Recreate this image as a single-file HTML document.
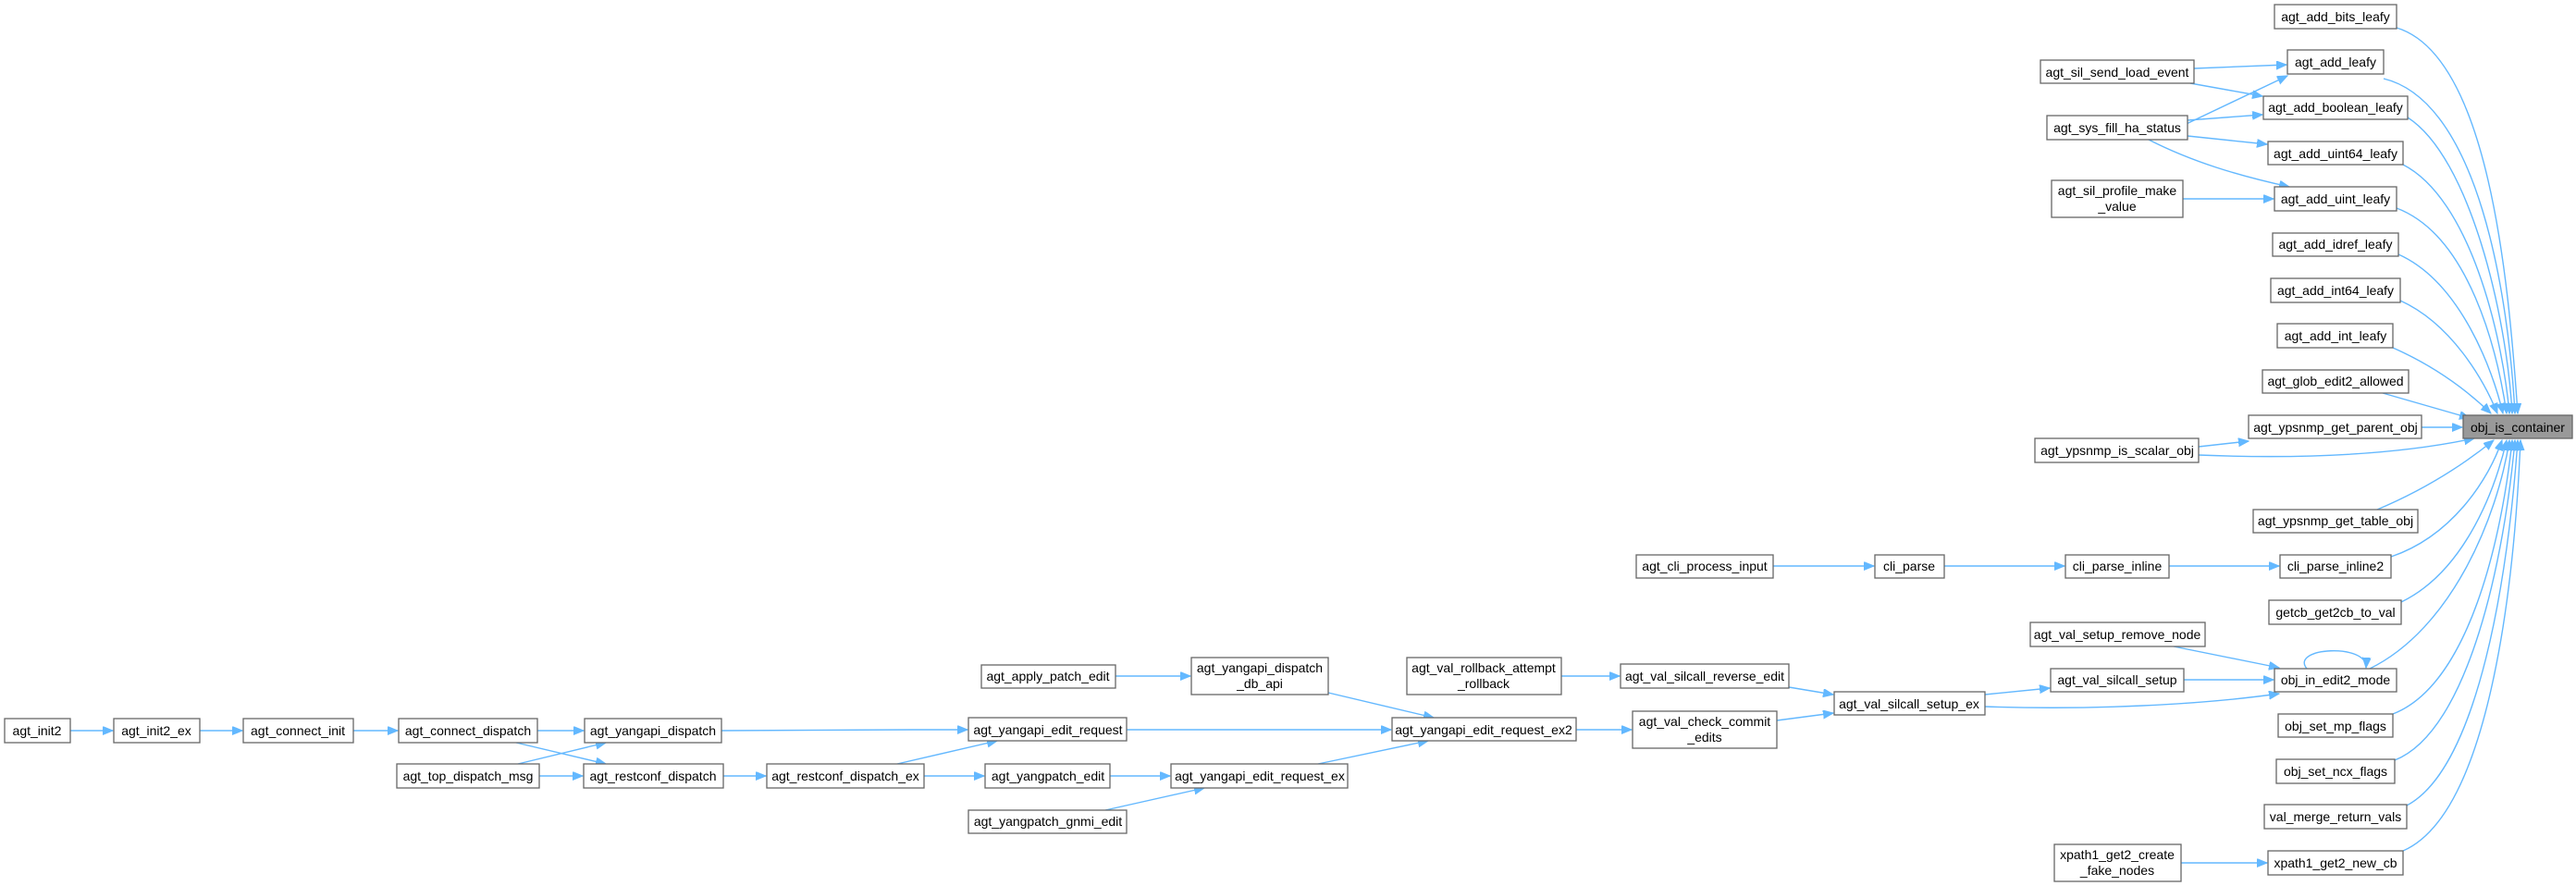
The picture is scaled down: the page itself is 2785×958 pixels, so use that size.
<!DOCTYPE html>
<html><head><meta charset="utf-8"><style>
html,body{margin:0;padding:0;background:#fff;}
svg{display:block;}
text{font-family:"Liberation Sans",Arial,sans-serif;font-size:14px;fill:#000;}
.n{fill:#fff;stroke:#666;stroke-width:1.3;}
.e{fill:none;stroke:#63b8ff;stroke-width:1.4;}
</style></head><body>
<svg width="2785" height="958" viewBox="0 0 2785 958" xmlns="http://www.w3.org/2000/svg">
<defs><marker id="a" markerUnits="userSpaceOnUse" markerWidth="12" markerHeight="10" refX="11" refY="4.5" orient="auto"><path d="M0,0 L11,4.5 L0,9 z" fill="#63b8ff" stroke="#63b8ff"/></marker></defs>

<g class="edges">
<path class="e" marker-end="url(#a)" d="M2591,30 C2690,60 2712,300 2722,447"/>
<path class="e" marker-end="url(#a)" d="M2577,85 C2680,110 2712,320 2719,447"/>
<path class="e" marker-end="url(#a)" d="M2603,127 C2670,170 2710,340 2716,447"/>
<path class="e" marker-end="url(#a)" d="M2598,178 C2670,215 2705,360 2713,447"/>
<path class="e" marker-end="url(#a)" d="M2591,225 C2670,255 2700,380 2710,447"/>
<path class="e" marker-end="url(#a)" d="M2593,275 C2660,305 2695,400 2706,447"/>
<path class="e" marker-end="url(#a)" d="M2595,325 C2650,350 2685,410 2700,447"/>
<path class="e" marker-end="url(#a)" d="M2587,376 C2630,395 2665,420 2693,447"/>
<path class="e" marker-end="url(#a)" d="M2576,425 L2670,452"/>
<path class="e" marker-end="url(#a)" d="M2618,462 L2662,462"/>
<path class="e" marker-end="url(#a)" d="M2377,492 C2500,497 2600,490 2675,474"/>
<path class="e" marker-end="url(#a)" d="M2570,551 C2620,530 2660,505 2696,476"/>
<path class="e" marker-end="url(#a)" d="M2585,602 C2650,580 2690,520 2705,476"/>
<path class="e" marker-end="url(#a)" d="M2596,651 C2660,620 2695,540 2710,476"/>
<path class="e" marker-end="url(#a)" d="M2562,723 C2650,680 2700,560 2713,476"/>
<path class="e" marker-end="url(#a)" d="M2587,772 C2670,740 2705,580 2716,476"/>
<path class="e" marker-end="url(#a)" d="M2589,822 C2670,790 2708,600 2719,476"/>
<path class="e" marker-end="url(#a)" d="M2602,871 C2680,830 2712,620 2722,476"/>
<path class="e" marker-end="url(#a)" d="M2598,920 C2690,880 2718,640 2725,476"/>
<path class="e" marker-end="url(#a)" d="M2372,74 L2472,70"/>
<path class="e" marker-end="url(#a)" d="M2368,90 L2446,104"/>
<path class="e" marker-end="url(#a)" d="M2328,151 L2473,82"/>
<path class="e" marker-end="url(#a)" d="M2365,130 L2446,124"/>
<path class="e" marker-end="url(#a)" d="M2365,147 L2451,156"/>
<path class="e" marker-end="url(#a)" d="M2323,151 C2370,175 2420,190 2475,202"/>
<path class="e" marker-end="url(#a)" d="M2360,215 L2458,215"/>
<path class="e" marker-end="url(#a)" d="M2377,483 L2431,477"/>
<path class="e" marker-end="url(#a)" d="M1917,612 L2026,612"/>
<path class="e" marker-end="url(#a)" d="M2102,612 L2232,612"/>
<path class="e" marker-end="url(#a)" d="M2345,612 L2464,612"/>
<path class="e" marker-end="url(#a)" d="M2350,699 L2464,722"/>
<path class="e" marker-end="url(#a)" d="M2361,735 L2458,735"/>
<path class="e" marker-end="url(#a)" d="M2146,751 L2216,744"/>
<path class="e" marker-end="url(#a)" d="M2146,764 C2260,768 2380,762 2464,750"/>
<path class="e" marker-end="url(#a)" d="M2494,723 C2475,700 2560,695 2558,722"/>
<path class="e" marker-end="url(#a)" d="M2358,933 L2451,933"/>
<path class="e" marker-end="url(#a)" d="M1688,731 L1751,731"/>
<path class="e" marker-end="url(#a)" d="M1934,743 L1982,751"/>
<path class="e" marker-end="url(#a)" d="M1921,779 L1982,771"/>
<path class="e" marker-end="url(#a)" d="M1704,789 L1764,789"/>
<path class="e" marker-end="url(#a)" d="M1206,731 L1287,731"/>
<path class="e" marker-end="url(#a)" d="M1436,749 L1550,776"/>
<path class="e" marker-end="url(#a)" d="M1218,789 L1504,789"/>
<path class="e" marker-end="url(#a)" d="M1425,826 L1544,801"/>
<path class="e" marker-end="url(#a)" d="M999,839 L1064,839"/>
<path class="e" marker-end="url(#a)" d="M1200,839 L1265,839"/>
<path class="e" marker-end="url(#a)" d="M970,826 L1078,801"/>
<path class="e" marker-end="url(#a)" d="M1195,876 L1302,852"/>
<path class="e" marker-end="url(#a)" d="M780,790 C880,789 960,789 1046,789"/>
<path class="e" marker-end="url(#a)" d="M782,839 L828,839"/>
<path class="e" marker-end="url(#a)" d="M76,790 L122,790"/>
<path class="e" marker-end="url(#a)" d="M216,790 L262,790"/>
<path class="e" marker-end="url(#a)" d="M382,790 L430,790"/>
<path class="e" marker-end="url(#a)" d="M581,790 L631,790"/>
<path class="e" marker-end="url(#a)" d="M558,803 L655,826"/>
<path class="e" marker-end="url(#a)" d="M560,826 L655,803"/>
<path class="e" marker-end="url(#a)" d="M583,839 L630,839"/>
</g>

<g class="nodes">
<rect class="n" x="2459" y="5" width="132" height="26"/><text x="2525" y="23" text-anchor="middle">agt_add_bits_leafy</text>
<rect class="n" x="2473" y="54" width="104" height="26"/><text x="2525" y="72" text-anchor="middle">agt_add_leafy</text>
<rect class="n" x="2447" y="104" width="156" height="25"/><text x="2525" y="121" text-anchor="middle">agt_add_boolean_leafy</text>
<rect class="n" x="2452" y="153" width="146" height="25"/><text x="2525" y="171" text-anchor="middle">agt_add_uint64_leafy</text>
<rect class="n" x="2459" y="202" width="132" height="26"/><text x="2525" y="220" text-anchor="middle">agt_add_uint_leafy</text>
<rect class="n" x="2457" y="252" width="136" height="25"/><text x="2525" y="269" text-anchor="middle">agt_add_idref_leafy</text>
<rect class="n" x="2455" y="301" width="140" height="26"/><text x="2525" y="319" text-anchor="middle">agt_add_int64_leafy</text>
<rect class="n" x="2462" y="350" width="125" height="26"/><text x="2525" y="368" text-anchor="middle">agt_add_int_leafy</text>
<rect class="n" x="2446" y="400" width="158" height="25"/><text x="2525" y="417" text-anchor="middle">agt_glob_edit2_allowed</text>
<rect class="n" x="2431" y="449" width="187" height="25"/><text x="2525" y="467" text-anchor="middle">agt_ypsnmp_get_parent_obj</text>
<rect x="2663" y="449" width="118" height="25" fill="#999" stroke="#666" stroke-width="1.3"/><text x="2722" y="467" text-anchor="middle">obj_is_container</text>
<rect class="n" x="2206" y="65" width="166" height="25"/><text x="2289" y="83" text-anchor="middle">agt_sil_send_load_event</text>
<rect class="n" x="2213" y="125" width="152" height="26"/><text x="2289" y="143" text-anchor="middle">agt_sys_fill_ha_status</text>
<rect class="n" x="2218" y="195" width="142" height="40"/><text x="2289" y="211" text-anchor="middle">agt_sil_profile_make</text><text x="2289" y="228" text-anchor="middle">_value</text>
<rect class="n" x="2200" y="474" width="177" height="26"/><text x="2289" y="492" text-anchor="middle">agt_ypsnmp_is_scalar_obj</text>
<rect class="n" x="2436" y="551" width="178" height="25"/><text x="2525" y="568" text-anchor="middle">agt_ypsnmp_get_table_obj</text>
<rect class="n" x="1769" y="600" width="148" height="25"/><text x="1843" y="617" text-anchor="middle">agt_cli_process_input</text>
<rect class="n" x="2027" y="600" width="75" height="25"/><text x="2064" y="617" text-anchor="middle">cli_parse</text>
<rect class="n" x="2233" y="600" width="112" height="25"/><text x="2289" y="617" text-anchor="middle">cli_parse_inline</text>
<rect class="n" x="2465" y="600" width="120" height="25"/><text x="2525" y="617" text-anchor="middle">cli_parse_inline2</text>
<rect class="n" x="2453" y="649" width="143" height="26"/><text x="2525" y="667" text-anchor="middle">getcb_get2cb_to_val</text>
<rect class="n" x="2195" y="673" width="189" height="26"/><text x="2289" y="691" text-anchor="middle">agt_val_setup_remove_node</text>
<rect class="n" x="2217" y="723" width="144" height="25"/><text x="2289" y="740" text-anchor="middle">agt_val_silcall_setup</text>
<rect class="n" x="2459" y="723" width="132" height="25"/><text x="2525" y="740" text-anchor="middle">obj_in_edit2_mode</text>
<rect class="n" x="2463" y="772" width="124" height="25"/><text x="2525" y="790" text-anchor="middle">obj_set_mp_flags</text>
<rect class="n" x="2461" y="821" width="128" height="26"/><text x="2525" y="839" text-anchor="middle">obj_set_ncx_flags</text>
<rect class="n" x="2448" y="870" width="154" height="26"/><text x="2525" y="888" text-anchor="middle">val_merge_return_vals</text>
<rect class="n" x="2452" y="920" width="146" height="26"/><text x="2525" y="938" text-anchor="middle">xpath1_get2_new_cb</text>
<rect class="n" x="2221" y="913" width="137" height="40"/><text x="2289" y="929" text-anchor="middle">xpath1_get2_create</text><text x="2289" y="946" text-anchor="middle">_fake_nodes</text>
<rect class="n" x="1521" y="711" width="167" height="40"/><text x="1604" y="727" text-anchor="middle">agt_val_rollback_attempt</text><text x="1604" y="744" text-anchor="middle">_rollback</text>
<rect class="n" x="1752" y="718" width="182" height="26"/><text x="1843" y="736" text-anchor="middle">agt_val_silcall_reverse_edit</text>
<rect class="n" x="1983" y="748" width="163" height="25"/><text x="2064" y="766" text-anchor="middle">agt_val_silcall_setup_ex</text>
<rect class="n" x="1505" y="776" width="199" height="25"/><text x="1604" y="794" text-anchor="middle">agt_yangapi_edit_request_ex2</text>
<rect class="n" x="1765" y="769" width="156" height="40"/><text x="1843" y="785" text-anchor="middle">agt_val_check_commit</text><text x="1843" y="802" text-anchor="middle">_edits</text>
<rect class="n" x="5" y="777" width="71" height="26"/><text x="40" y="795" text-anchor="middle">agt_init2</text>
<rect class="n" x="123" y="777" width="93" height="26"/><text x="169" y="795" text-anchor="middle">agt_init2_ex</text>
<rect class="n" x="263" y="777" width="119" height="26"/><text x="322" y="795" text-anchor="middle">agt_connect_init</text>
<rect class="n" x="431" y="777" width="150" height="26"/><text x="506" y="795" text-anchor="middle">agt_connect_dispatch</text>
<rect class="n" x="632" y="777" width="148" height="26"/><text x="706" y="795" text-anchor="middle">agt_yangapi_dispatch</text>
<rect class="n" x="429" y="826" width="154" height="26"/><text x="506" y="844" text-anchor="middle">agt_top_dispatch_msg</text>
<rect class="n" x="631" y="826" width="151" height="26"/><text x="706" y="844" text-anchor="middle">agt_restconf_dispatch</text>
<rect class="n" x="1061" y="719" width="145" height="25"/><text x="1133" y="736" text-anchor="middle">agt_apply_patch_edit</text>
<rect class="n" x="1288" y="711" width="148" height="40"/><text x="1362" y="727" text-anchor="middle">agt_yangapi_dispatch</text><text x="1362" y="744" text-anchor="middle">_db_api</text>
<rect class="n" x="1047" y="776" width="171" height="25"/><text x="1133" y="794" text-anchor="middle">agt_yangapi_edit_request</text>
<rect class="n" x="829" y="826" width="170" height="26"/><text x="914" y="844" text-anchor="middle">agt_restconf_dispatch_ex</text>
<rect class="n" x="1065" y="826" width="135" height="26"/><text x="1133" y="844" text-anchor="middle">agt_yangpatch_edit</text>
<rect class="n" x="1266" y="826" width="191" height="26"/><text x="1362" y="844" text-anchor="middle">agt_yangapi_edit_request_ex</text>
<rect class="n" x="1047" y="876" width="171" height="25"/><text x="1133" y="893" text-anchor="middle">agt_yangpatch_gnmi_edit</text>
</g>
</svg>
</body></html>
